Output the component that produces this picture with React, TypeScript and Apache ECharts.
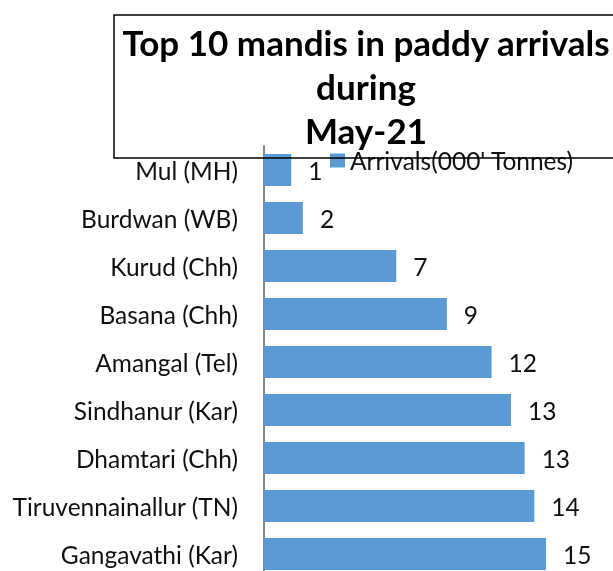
import React, { useEffect, useRef } from "react";
import * as echarts from "echarts";

const categories = [
  "Mul (MH)",
  "Burdwan (WB)",
  "Kurud (Chh)",
  "Basana (Chh)",
  "Amangal (Tel)",
  "Sindhanur (Kar)",
  "Dhamtari (Chh)",
  "Tiruvennainallur (TN)",
  "Gangavathi (Kar)",
];
const arrivals = [1.4, 2.0, 6.8, 9.4, 11.7, 12.7, 13.4, 13.9, 14.5];
const seriesName = "Arrivals(000' Tonnes)";
const titleLines = ["Top 10 mandis in paddy arrivals", "during", "May-21"];

const FONT = "Lato, 'Noto Sans', sans-serif";

export default function App() {
  const ref = useRef<HTMLDivElement>(null);
  useEffect(() => {
    if (!ref.current) return;
    const chart = echarts.init(ref.current, undefined, { renderer: "svg" });
    const titleY = [42, 86, 130];
    chart.setOption({
      animation: false,
      textStyle: { fontFamily: FONT },
      grid: { left: 264, right: 37.8, top: 146, bottom: 0, containLabel: false },
      legend: {
        data: [seriesName],
        left: 330,
        top: 148,
        padding: 0,
        itemWidth: 15,
        itemHeight: 14,
        itemGap: 5,
        icon: "rect",
        textStyle: { fontSize: 24.5, color: "#111", fontFamily: FONT },
      },
      xAxis: {
        type: "value",
        min: 0,
        max: 16,
        show: false,
        splitLine: { show: false },
      },
      yAxis: {
        type: "category",
        data: categories,
        inverse: true,
        axisTick: { show: false },
        axisLine: { show: true, lineStyle: { color: "#888", width: 2 } },
        axisLabel: {
          fontSize: 24.5,
          color: "#111",
          margin: 26,
          fontFamily: FONT,
          padding: [3, 0, 0, 0],
        },
      },
      series: [
        {
          name: seriesName,
          type: "bar",
          data: arrivals,
          barCategoryGap: "33.3%",
          itemStyle: { color: "#5B9BD5" },
          label: {
            show: true,
            position: "right",
            distance: 17,
            fontSize: 24.5,
            color: "#111",
            fontFamily: FONT,
            padding: [3, 0, 0, 0],
            formatter: (p: any) => String(Math.round(p.value)),
          },
        },
      ],
      graphic: [
        {
          type: "rect",
          shape: { x: 114, y: 15, width: 520, height: 143 },
          style: { fill: "none", stroke: "#000", lineWidth: 1.5 },
          z: 100,
        },
        ...titleLines.map((t, i) => ({
          type: "text",
          x: 366,
          y: titleY[i],
          style: {
            text: t,
            textAlign: "center",
            textVerticalAlign: "middle",
            font: `bold 35px ${FONT}`,
            fill: "#000",
          },
          z: 100,
        })),
      ],
    });
    return () => chart.dispose();
  }, []);
  return (
    <div
      ref={ref}
      style={{ position: "fixed", left: 0, top: 0, width: 613, height: 578 }}
    />
  );
}
